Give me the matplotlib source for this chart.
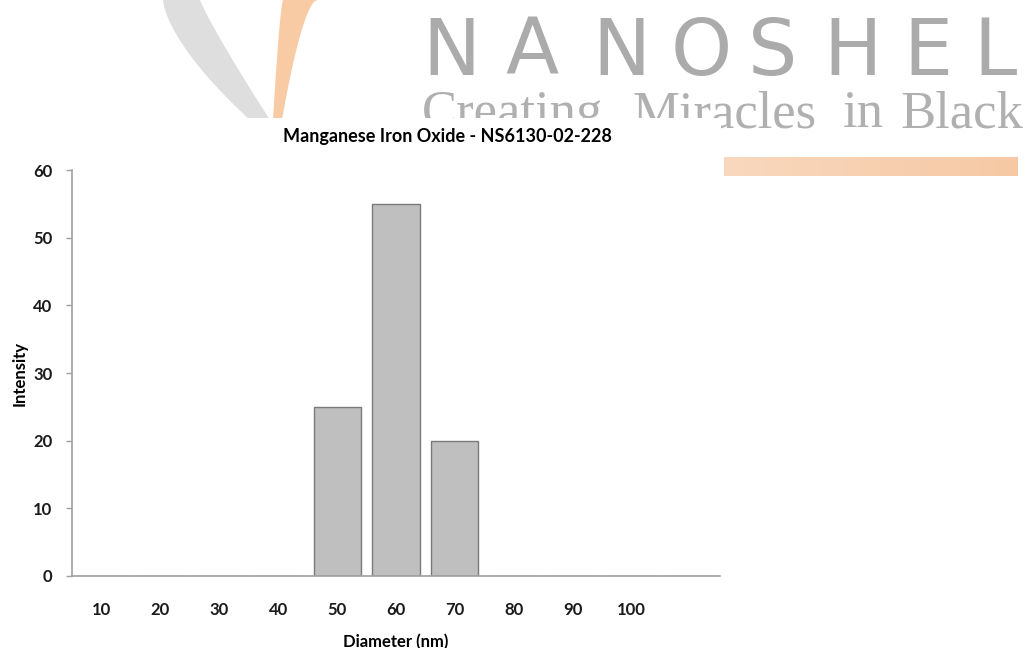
import numpy as np
import matplotlib
matplotlib.use("Agg")
import matplotlib.pyplot as plt
from matplotlib.patches import Polygon, Rectangle

# Size distribution values
diameters = ["10", "20", "30", "40", "50", "60", "70", "80", "90", "100", ""]
intensity = [0, 0, 0, 0, 25, 55, 20, 0, 0, 0, 0]
y_ticks = [0, 10, 20, 30, 40, 50, 60]

W, H = 1034, 648
fig = plt.figure(figsize=(W / 100, H / 100), dpi=100)
fig.patch.set_facecolor("white")

# background artwork, drawn in pixel units on a full-figure axes
bg = fig.add_axes([0, 0, 1, 1], zorder=0)
bg.set_xlim(0, W)
bg.set_ylim(H, 0)
bg.axis("off")

yy = np.linspace(0, 120, 60)
s = yy / 120
# grey crescent
g_left = 163 + 87 * s**1.5
g_right = 200 + 70 * s**1.1
bg.add_patch(Polygon(np.vstack([np.column_stack([g_left, yy]),
                                np.column_stack([g_right, yy])[::-1]]),
                     closed=True, facecolor="#dedede", edgecolor="none"))
# orange crescent
o_left = 283 - 10 * s**0.7
o_right = 317 - 35 * s**0.6
bg.add_patch(Polygon(np.vstack([np.column_stack([o_left, yy]),
                                np.column_stack([o_right, yy])[::-1]]),
                     closed=True, facecolor="#f9cba5", edgecolor="none"))

# company name
for ch, cx in zip("NANOSHEL", [451, 532, 621, 701, 773, 853, 928, 995]):
    bg.text(cx, 75, ch, ha="center", va="baseline", fontsize=56,
            family="DejaVu Sans", color="#ababab")
for word, x0 in zip(["Creating", "Miracles", "in", "Black"], [422, 633, 843, 900]):
    bg.text(x0, 127, word, ha="left", va="baseline", fontsize=38,
            family="Liberation Serif", color="#b0b0b0")

# orange band on the right
grad = np.linspace(0, 1, 256)
c0 = np.array([249, 216, 190]) / 255
c1 = np.array([246, 201, 164]) / 255
band = (c0[None, :] * (1 - grad[:, None]) + c1[None, :] * grad[:, None])[None, :, :]
bg.imshow(band, extent=[724, 1018, 176, 157], aspect="auto", zorder=1)

# white panel behind the chart
bg.add_patch(Rectangle((0, 118), 721, H - 118, facecolor="white",
                       edgecolor="none", zorder=10))

# chart
ax = fig.add_axes([72 / W, (H - 576) / H, 648 / W, 406 / H], zorder=1)
ax.patch.set_alpha(0)
x = np.arange(len(diameters))
ax.bar(x, intensity, width=0.8, color="#bfbfbf", edgecolor="#7a7a7a", linewidth=1)

ax.set_xlim(-0.5, len(diameters) - 0.5)
ax.set_ylim(0, 60)
ax.set_xticks(x)
ax.set_xticklabels(diameters)
ax.set_yticks(y_ticks)

for side in ["top", "right"]:
    ax.spines[side].set_visible(False)
for side in ["left", "bottom"]:
    ax.spines[side].set_color("#a0a0a0")
    ax.spines[side].set_linewidth(1.2)

ax.tick_params(axis="x", length=0, pad=19)
ax.tick_params(axis="y", length=4, width=1, color="#a0a0a0", pad=10)
for lbl in ax.get_xticklabels() + ax.get_yticklabels():
    lbl.set_fontfamily("Lato")
    lbl.set_fontweight("bold")
    lbl.set_fontsize(12)
    lbl.set_color("#1a1a1a")

# title is centred over the whole chart area, not just the plot
ax.set_title("Manganese Iron Oxide - NS6130-02-228", fontfamily="Lato",
             fontweight="bold", fontsize=13, pad=20, x=0.579)
ax.set_xlabel("Diameter (nm)", fontfamily="Lato", fontweight="bold",
              fontsize=12, labelpad=11)
ax.set_ylabel("Intensity", fontfamily="Lato", fontweight="bold",
              fontsize=12, labelpad=4)

fig.savefig("out.png", dpi=100, facecolor="white")
